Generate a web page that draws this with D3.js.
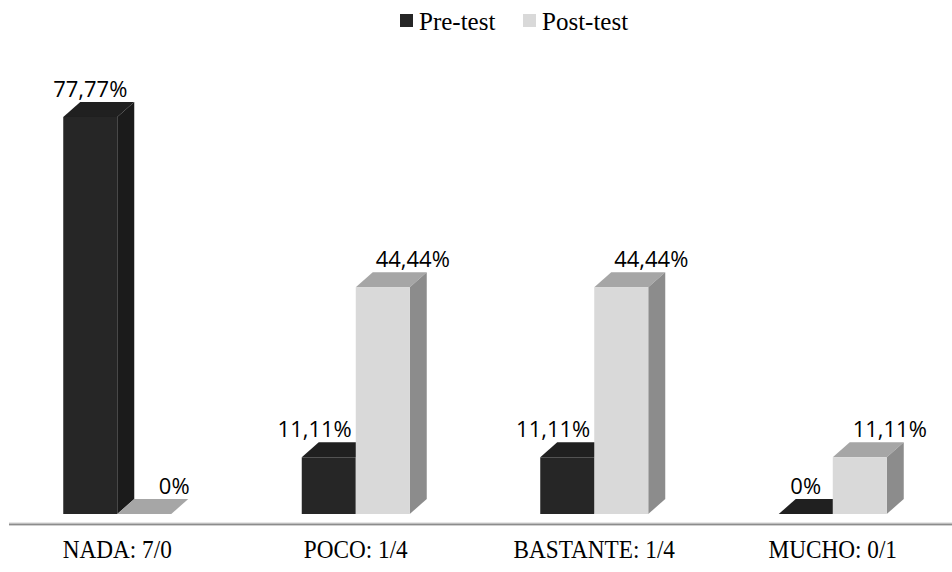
<!DOCTYPE html>
<html>
<head>
<meta charset="utf-8">
<script src="https://cdn.jsdelivr.net/npm/d3@7"></script>
<style>
  html, body { margin: 0; padding: 0; background: #fff; }
  svg { display: block; }
</style>
</head>
<body>
<svg id="chart" width="952" height="572"></svg>
<script>
// Survey answers, percentage of respondents before and after the course
const categories = ["NADA: 7/0", "POCO: 1/4", "BASTANTE: 1/4", "MUCHO: 0/1"];
const preTest = [77.77, 11.11, 11.11, 0];
const postTest = [0, 44.44, 44.44, 11.11];
const seriesNames = ["Pre-test", "Post-test"];

const W = 952, H = 572;
const baseY = 514;          // floor of the 3D bars
const barW = 54;            // front face width
const depthX = 17, depthY = 15;

const palette = [
  { front: "#262626", side: "#1b1b1b", top: "#202020" },
  { front: "#d9d9d9", side: "#8c8c8c", top: "#a6a6a6" }
];

const svg = d3.select("#chart");

const x = d3.scaleBand().domain(categories).range([-2, W]).paddingInner(0).paddingOuter(0);
const y = d3.scaleLinear().domain([0, 100]).range([baseY, baseY - 510.5]);

const locale = d3.formatLocale({ decimal: ",", thousands: ".", grouping: [3], currency: ["", "€"] });
const fmt2 = locale.format(".2f");
const fmtPct = v => (v === 0 ? "0" : fmt2(v)) + "%";

// axis floor line
svg.append("line")
  .attr("x1", 9).attr("x2", W).attr("y1", 524).attr("y2", 524)
  .attr("stroke", "#d0d0d0").attr("stroke-width", 3);
svg.append("line")
  .attr("x1", 9).attr("x2", W).attr("y1", 524.5).attr("y2", 524.5)
  .attr("stroke", "#8c8c8c").attr("stroke-width", 1.5);

const rows = categories.map((c, i) => ({ cat: c, vals: [preTest[i], postTest[i]] }));

const labelFont = "'Open Sans', 'Noto Sans', sans-serif";
const labelSize = 22;
const serif = "'Liberation Serif', 'Times New Roman', serif";

// measure label widths for placement
const measurer = svg.append("text").attr("font-family", labelFont).attr("font-size", labelSize).attr("visibility", "hidden");
function textWidth(s) { measurer.text(s); return measurer.node().getComputedTextLength(); }

function drawBar(g, x0, v, col) {
  const top = y(v);
  // top face
  g.append("path")
    .attr("d", `M${x0},${top} L${x0 + depthX},${top - depthY} L${x0 + barW + depthX},${top - depthY} L${x0 + barW},${top} Z`)
    .attr("fill", col.top);
  if (v > 0) {
    // side face
    g.append("path")
      .attr("d", `M${x0 + barW},${top} L${x0 + barW + depthX},${top - depthY} L${x0 + barW + depthX},${baseY - depthY} L${x0 + barW},${baseY} Z`)
      .attr("fill", col.side);
    // front face
    g.append("rect")
      .attr("x", x0).attr("y", top).attr("width", barW).attr("height", baseY - top)
      .attr("fill", col.front);
  }
}

const groups = svg.selectAll("g.cat").data(rows).join("g").attr("class", "cat");

groups.each(function (d) {
  const g = d3.select(this);
  const center = x(d.cat) + x.bandwidth() / 2;
  d.vals.forEach((v, s) => {
    const x0 = s === 0 ? center - barW : center;
    drawBar(g, x0, v, palette[s]);
  });
  // value labels
  d.vals.forEach((v, s) => {
    const x0 = s === 0 ? center - barW : center;
    const label = fmtPct(v);
    const w = textWidth(label);
    let cx;
    if (s === 0) {
      cx = x0 + barW / 2;
      if (d.vals[1] > v && v > 0) cx = Math.min(cx, x0 + barW - 4 - w / 2);
    } else {
      cx = x0 + barW / 2 + depthX + 13;
    }
    g.append("text")
      .attr("x", cx)
      .attr("y", y(v) - depthY - 5)
      .attr("text-anchor", "middle")
      .attr("font-family", labelFont)
      .attr("font-size", labelSize)
      .attr("fill", "#000")
      .text(label);
  });
  // category label (slightly condensed serif)
  g.append("text")
    .attr("transform", `translate(${center},558) scale(0.93,1)`)
    .attr("text-anchor", "middle")
    .attr("font-family", serif)
    .attr("font-size", 25)
    .attr("fill", "#000")
    .text(d.cat);
});

measurer.remove();

// legend
const legend = svg.append("g").attr("class", "legend");
const legendItems = [
  { name: seriesNames[0], x: 400, col: palette[0].front },
  { name: seriesNames[1], x: 523, col: palette[1].front }
];
legendItems.forEach(it => {
  legend.append("rect").attr("x", it.x).attr("y", 14).attr("width", 13).attr("height", 13).attr("fill", it.col);
  legend.append("text")
    .attr("x", it.x + 19).attr("y", 30)
    .attr("font-family", serif)
    .attr("font-size", 25)
    .attr("fill", "#000")
    .text(it.name);
});
</script>
</body>
</html>
